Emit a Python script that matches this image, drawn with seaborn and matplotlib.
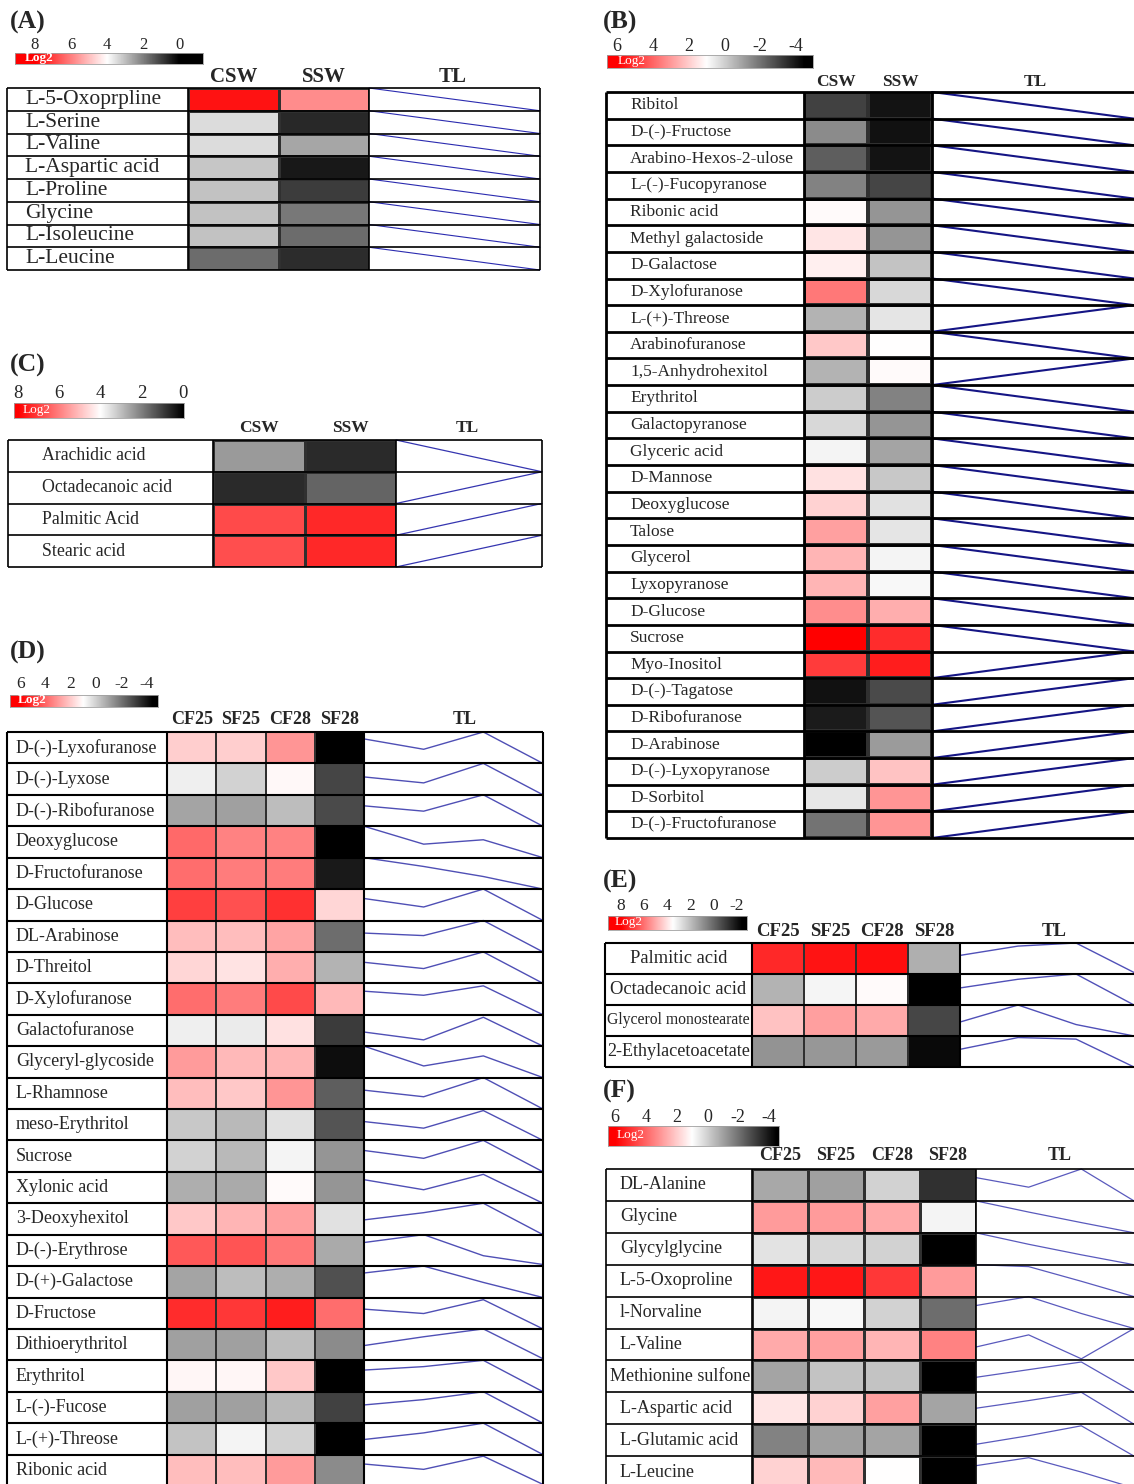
import numpy as np
import pandas as pd
import matplotlib
matplotlib.use("Agg")
import matplotlib.pyplot as plt
import seaborn as sns
from matplotlib.colors import LinearSegmentedColormap, Normalize

# ---------------------------------------------------------------- data
# (A) amino acids, seed water extracts (log2 fold change)
a_rows = ["L-5-Oxoprpline", "L-Serine", "L-Valine", "L-Aspartic acid",
          "L-Proline", "Glycine", "L-Isoleucine", "L-Leucine"]
a_groups = ["CSW", "SSW"]
a_csw = [7.7, 3.45, 3.45, 3.1, 3.05, 3.05, 3.05, 1.7]
a_ssw = [5.8, 0.63, 2.6, 0.4, 0.95, 1.9, 1.7, 0.7]

# (B) sugars and polyols, seed water extracts
b_rows = ["Ribitol", "D-(-)-Fructose", "Arabino-Hexos-2-ulose", "L-(-)-Fucopyranose",
          "Ribonic acid", "Methyl galactoside", "D-Galactose", "D-Xylofuranose",
          "L-(+)-Threose", "Arabinofuranose", "1,5-Anhydrohexitol", "Erythritol",
          "Galactopyranose", "Glyceric acid", "D-Mannose", "Deoxyglucose", "Talose",
          "Glycerol", "Lyxopyranose", "D-Glucose", "Sucrose", "Myo-Inositol",
          "D-(-)-Tagatose", "D-Ribofuranose", "D-Arabinose", "D-(-)-Lyxopyranose",
          "D-Sorbitol", "D-(-)-Fructofuranose"]
b_groups = ["CSW", "SSW"]
b_csw = [-3.1, -1.48, -2.45, -1.7, 1.1, 1.49, 1.29, 3.65, -0.62, 2.08, -0.62, -0.08,
         0.14, 0.78, 1.59, 1.88, 2.86, 2.47, 2.47, 3.25, 6.0, 4.82, -4.11, -3.9,
         -4.5, -0.08, 0.5, -2.02]
b_ssw = [-4.07, -4.11, -4.07, -2.99, -1.26, -1.26, -0.29, 0.14, 0.46, 1.0, 1.1, -1.7,
         -1.26, -0.94, -0.19, 0.35, 0.46, 0.78, 0.85, 2.57, 5.12, 5.41, -2.88, -2.67,
         -1.16, 2.18, 3.06, 3.06]

# (C) fatty acids, seed water extracts
c_rows = ["Arachidic acid", "Octadecanoic acid", "Palmitic Acid", "Stearic acid"]
c_groups = ["CSW", "SSW"]
c_csw = [2.43, 0.66, 6.82, 6.75]
c_ssw = [0.66, 1.57, 7.37, 7.37]

# (D) sugars and polyols, fruits
d_rows = ["D-(-)-Lyxofuranose", "D-(-)-Lyxose", "D-(-)-Ribofuranose", "Deoxyglucose",
          "D-Fructofuranose", "D-Glucose", "DL-Arabinose", "D-Threitol", "D-Xylofuranose",
          "Galactofuranose", "Glyceryl-glycoside", "L-Rhamnose", "meso-Erythritol",
          "Sucrose", "Xylonic acid", "3-Deoxyhexitol", "D-(-)-Erythrose",
          "D-(+)-Galactose", "D-Fructose", "Dithioerythritol", "Erythritol",
          "L-(-)-Fucose", "L-(+)-Threose", "Ribonic acid"]
d_groups = ["CF25", "SF25", "CF28", "SF28"]
d_cf25 = [1.98, 0.63, -0.94, 3.94, 3.84, 4.73, 2.27, 1.78, 3.84, 0.63, 2.96, 2.27,
          -0.19, 0.03, -0.73, 2.08, 4.24, -0.94, 5.12, -1.05, 1.2, -1.05, -0.29, 2.27]
d_sf25 = [1.98, 0.03, -1.05, 3.45, 3.55, 4.43, 2.27, 1.53, 3.55, 0.57, 2.37, 2.08,
          -0.51, -0.51, -0.83, 2.47, 4.33, -0.4, 4.92, -1.05, 1.2, -1.05, 0.78, 2.27]
d_cf28 = [3.06, 1.14, -0.4, 3.45, 3.55, 5.02, 2.76, 2.57, 4.53, 1.59, 2.47, 3.06,
          0.35, 0.78, 1.1, 2.86, 3.65, -0.73, 5.41, -0.4, 2.08, -0.51, 0.03, 2.96]
d_sf28 = [-4.5, -2.99, -2.88, -4.5, -3.96, 1.78, -2.13, -0.62, 2.37, -3.21, -4.18,
          -2.45, -2.67, -1.26, -1.26, 0.35, -0.83, -2.77, 3.84, -1.48, -4.5, -3.1,
          -4.5, -1.48]
# relative trend across CF25, SF25, CF28, SF28 (0 = lowest, 1 = highest)
d_tl_cf25 = [0.78, 0.57, 0.65, 1.0, 1.0, 0.7, 0.6, 0.67, 0.75, 0.45, 1.0, 0.6,
             0.6, 0.68, 0.75, 0.47, 0.75, 0.78, 0.63, 0.47, 0.69, 0.58, 0.48, 0.7]
d_tl_sf25 = [0.45, 0.38, 0.48, 0.43, 0.72, 0.43, 0.52, 0.47, 0.62, 0.2, 0.37, 0.39,
             0.39, 0.43, 0.43, 0.7, 1.0, 1.0, 0.49, 0.75, 0.8, 0.75, 0.69, 0.53]
d_tl_cf28 = [1.0, 1.0, 1.0, 0.57, 0.4, 1.0, 1.0, 1.0, 0.92, 0.92, 0.69, 1.0,
             0.95, 1.0, 0.92, 1.0, 0.33, 0.48, 0.93, 1.0, 1.0, 1.0, 1.0, 0.95]
d_tl_sf28 = [0.0, 0.0, 0.0, 0.0, 0.0, 0.0, 0.0, 0.0, 0.0, 0.0, 0.0, 0.0,
             0.0, 0.0, 0.0, 0.0, 0.05, 0.0, 0.0, 0.05, 0.0, 0.0, 0.0, 0.05]

# (E) fatty acids, fruits
e_rows = ["Palmitic acid", "Octadecanoic acid", "Glycerol monostearate",
          "2-Ethylacetoacetate"]
e_groups = ["CF25", "SF25", "CF28", "SF28"]
e_cf25 = [7.29, 1.69, 4.56, 0.98]
e_sf25 = [7.65, 3.26, 5.18, 1.03]
e_cf28 = [7.74, 3.59, 5.0, 1.15]
e_sf28 = [1.62, -2.5, -0.85, -2.26]
e_tl_cf25 = [0.6, 0.55, 0.45, 0.57]
e_tl_sf25 = [0.9, 0.83, 1.0, 0.95]
e_tl_cf28 = [1.0, 1.0, 0.37, 0.9]
e_tl_sf28 = [0.05, 0.0, 0.0, 0.0]

# (F) amino acids, fruits
f_rows = ["DL-Alanine", "Glycine", "Glycylglycine", "L-5-Oxoproline", "l-Norvaline",
          "L-Valine", "Methionine sulfone", "L-Aspartic acid", "L-Glutamic acid",
          "L-Leucine"]
f_groups = ["CF25", "SF25", "CF28", "SF28"]
f_cf25 = [-0.88, 2.96, 0.42, 5.51, 0.78, 2.67, -0.94, 1.49, -1.7, 1.88]
f_sf25 = [-1.05, 2.96, 0.14, 5.51, 0.85, 2.86, -0.29, 1.88, -1.05, 2.37]
f_cf28 = [0.03, 2.67, 0.03, 4.92, 0.03, 2.47, -0.29, 2.86, -0.94, 1.0]
f_sf28 = [-3.46, 0.78, -4.5, 2.96, -2.13, 3.45, -4.5, -0.94, -4.5, -4.5]
f_tl_cf25 = [0.73, 1.0, 1.0, 1.0, 0.72, 0.42, 0.47, 0.5, 0.37, 0.7]
f_tl_sf25 = [0.43, 0.65, 0.64, 0.94, 1.0, 0.8, 0.71, 0.74, 0.64, 0.95]
f_tl_cf28 = [1.0, 0.32, 0.31, 0.48, 0.47, 0.05, 0.95, 1.0, 0.95, 0.5]
f_tl_sf28 = [0.0, 0.0, 0.0, 0.0, 0.0, 1.0, 0.0, 0.0, 0.0, 0.0]

# ---------------------------------------------------------------- style
sns.set_theme(style="white")
plt.rcParams["font.family"] = ["Liberation Serif", "DejaVu Serif"]
plt.rcParams["axes.unicode_minus"] = False

FIG_W, FIG_H = 1134, 1484
fig = plt.figure(figsize=(FIG_W / 100, FIG_H / 100), dpi=100)
fig.patch.set_facecolor("white")


def px_axes(x0, y0, x1, y1):
    """Axes placed by pixel box (left, top, right, bottom)."""
    return fig.add_axes([x0 / FIG_W, 1 - y1 / FIG_H, (x1 - x0) / FIG_W, (y1 - y0) / FIG_H])


def px_text(x, y, s, **kw):
    return fig.text(x / FIG_W, 1 - y / FIG_H, s, **kw)


def log2_cmap(vmin, vmid, vmax):
    f = (vmid - vmin) / (vmax - vmin)
    return LinearSegmentedColormap.from_list(
        "log2", [(0.0, "#000000"), (f, "#ffffff"), (1.0, "#ff0000")])


fit_labels = []


def minmax(row):
    row = np.asarray(row, float)
    span = row.max() - row.min()
    return (row - row.min()) / span if span > 0 else np.full_like(row, 0.5)


def draw_panel(p, rows, groups, values, trend=None):
    n, k = len(rows), len(groups)
    vmin, vmid, vmax = p["scale"]
    cmap = log2_cmap(vmin, vmid, vmax)

    px_text(*p["letter_xy"], p["letter"], fontsize=18.5, fontweight="bold",
            ha="left", va="center")

    # colour key
    bx0, by0, bx1, by1 = p["bar"]
    hi, lo = p["bar_range"]
    cax = px_axes(bx0, by0, bx1, by1)
    grad = np.linspace(hi, lo, 400)[None, :]
    cax.imshow(grad, cmap=cmap, norm=Normalize(vmin, vmax), aspect="auto",
               extent=[hi, lo, 0, 1], interpolation="bilinear")
    cax.set_xlim(hi, lo)
    cax.set_ylim(0, 1)
    cax.set_xticks(p["ticks"])
    cax.set_xticklabels([f"{t:g}" for t in p["ticks"]])
    cax.set_yticks([])
    cax.xaxis.tick_top()
    cax.tick_params(axis="x", length=0, pad=p["tick_pad"], labelsize=p["tick_fs"])
    for s in cax.spines.values():
        s.set_color("#a0a0a0")
        s.set_linewidth(0.6)
    cax.text(0.05, 0.55, "Log2", transform=cax.transAxes, color="white",
             fontsize=9.5, fontweight=p.get("log2_weight", "normal"),
             ha="left", va="center")

    tx0, ty0, tx1, ty1 = p["table"]
    hx0, hx1 = p["cells"]

    # row labels
    lax = px_axes(tx0, ty0, hx0, ty1)
    lax.set_xlim(tx0, hx0)
    lax.set_ylim(n, 0)
    lax.axis("off")
    for i, name in enumerate(rows):
        if p["label_mode"] == "center":
            t = lax.text((tx0 + hx0) / 2, i + 0.5, name, fontsize=p["label_fs"],
                         ha="center", va="center")
        else:
            t = lax.text(tx0 + p["label_pad"], i + 0.5, name, fontsize=p["label_fs"],
                         ha="left", va="center")
        fit_labels.append((t, tx0, hx0, p["label_mode"]))

    # heat map
    df = pd.DataFrame(np.column_stack(values), index=rows, columns=groups)
    hax = px_axes(hx0, ty0, hx1, ty1)
    sns.heatmap(df, ax=hax, cmap=cmap, vmin=vmin, vmax=vmax, cbar=False,
                linewidths=p["cell_lw"], linecolor="#303030",
                xticklabels=False, yticklabels=False)
    hax.set_xlabel("")
    hax.set_ylabel("")

    # column headers
    cw = (hx1 - hx0) / k
    for j, g in enumerate(groups):
        px_text(hx0 + cw * (j + 0.5), p["header_y"], g, fontsize=p["header_fs"],
                fontweight="bold", ha="center", va="center")
    px_text(p["tl_x"], p["header_y"], "TL", fontsize=p["header_fs"],
            fontweight="bold", ha="center", va="center")

    # trend lines
    if trend is None:
        trend = [minmax(r) for r in df.to_numpy()]
    else:
        trend = np.column_stack(trend)
    recs = []
    for i, tr in enumerate(trend):
        for j in range(k):
            recs.append({"row": i, "x": j, "y": i + 1 - tr[j]})
    tl_df = pd.DataFrame(recs)
    tax = px_axes(hx1, ty0, tx1, ty1)
    sns.lineplot(data=tl_df, x="x", y="y", units="row", estimator=None, ax=tax,
                 color=p["tl_color"], linewidth=p["tl_lw"], legend=False)
    for ln in tax.lines:
        ln.set_clip_on(False)
    tax.set_xlim(0, k - 1)
    tax.set_ylim(n, 0)
    tax.axis("off")

    # table rules
    fax = px_axes(tx0, ty0, tx1, ty1)
    fax.set_xlim(tx0, tx1)
    fax.set_ylim(n, 0)
    fax.patch.set_visible(False)
    fax.axis("off")
    fax.hlines(np.arange(n + 1), tx0, tx1, color="black", lw=p["frame_lw"], clip_on=False)
    vx = [tx0, hx0, hx1] + ([tx1] if p["right_border"] else [])
    fax.vlines(vx, 0, n, color="black", lw=p["frame_lw"], clip_on=False)


panel_a = dict(letter="(A)", letter_xy=(10, 22), bar=(15, 53, 203, 64),
               bar_range=(9.1, -1.3), ticks=[8, 6, 4, 2, 0], tick_fs=12, tick_pad=0.1,
               scale=(0, 4, 8), table=(7, 88, 540, 270), cells=(188, 369),
               header_y=77, header_fs=15, tl_x=453, label_fs=15.5, label_pad=18,
               label_mode="left", cell_lw=0.8, frame_lw=1.2, right_border=True,
               tl_color="#2b2bb0", tl_lw=0.8, log2_weight="bold")
panel_b = dict(letter="(B)", letter_xy=(603, 22), bar=(607, 55, 813, 68),
               bar_range=(6.56, -4.95), ticks=[6, 4, 2, 0, -2, -4], tick_fs=13,
               tick_pad=0.2, scale=(-4.5, 1, 6), table=(606, 92, 1134, 838),
               cells=(804, 932), header_y=82, header_fs=12.5, tl_x=1035, label_fs=12.5,
               label_pad=24, label_mode="left", cell_lw=1.5, frame_lw=2.0,
               right_border=False, tl_color="#151585", tl_lw=1.5)
panel_c = dict(letter="(C)", letter_xy=(10, 365), bar=(14, 403, 184, 418),
               bar_range=(8.19, -0.05), ticks=[8, 6, 4, 2, 0], tick_fs=13.5, tick_pad=0.8,
               scale=(0, 4, 8), table=(8, 440, 542, 567), cells=(213, 396),
               header_y=428, header_fs=12.5, tl_x=467, label_fs=12.8, label_pad=34,
               label_mode="left", cell_lw=0.8, frame_lw=1.2, right_border=True,
               tl_color="#3535b0", tl_lw=0.9)
panel_d = dict(letter="(D)", letter_xy=(10, 652), bar=(10, 695, 158, 707),
               bar_range=(6.8, -4.9), ticks=[6, 4, 2, 0, -2, -4], tick_fs=12.5,
               tick_pad=2.0, scale=(-4.5, 1, 6), table=(7, 732, 543, 1486),
               cells=(167, 364), header_y=720, header_fs=13, tl_x=465, label_fs=13,
               label_pad=9, label_mode="left", cell_lw=1.2, frame_lw=1.5,
               right_border=True, tl_color="#4f4fb5", tl_lw=1.0, log2_weight="bold")
panel_e = dict(letter="(E)", letter_xy=(603, 881), bar=(608, 916, 747, 930),
               bar_range=(9.1, -2.9), ticks=[8, 6, 4, 2, 0, -2], tick_fs=12.5,
               tick_pad=1.7, scale=(-2.5, 3.5, 8), table=(605, 943, 1134, 1067),
               cells=(752, 960), header_y=932, header_fs=13.5, tl_x=1054, label_fs=13.3,
               label_pad=0, label_mode="center", cell_lw=1.2, frame_lw=1.5,
               right_border=False, tl_color="#5050b8", tl_lw=1.0)
panel_f = dict(letter="(F)", letter_xy=(603, 1091), bar=(608, 1126, 779, 1146),
               bar_range=(6.46, -4.65), ticks=[6, 4, 2, 0, -2, -4], tick_fs=13,
               tick_pad=0.3, scale=(-4.5, 1, 6), table=(606, 1169, 1134, 1488),
               cells=(752, 976), header_y=1156, header_fs=13, tl_x=1060, label_fs=13,
               label_pad=14, label_mode="left", cell_lw=1.0, frame_lw=1.2,
               right_border=False, tl_color="#5a5abd", tl_lw=0.9)

draw_panel(panel_a, a_rows, a_groups, [a_csw, a_ssw])
draw_panel(panel_b, b_rows, b_groups, [b_csw, b_ssw])
draw_panel(panel_c, c_rows, c_groups, [c_csw, c_ssw])
draw_panel(panel_d, d_rows, d_groups, [d_cf25, d_sf25, d_cf28, d_sf28],
           [d_tl_cf25, d_tl_sf25, d_tl_cf28, d_tl_sf28])
draw_panel(panel_e, e_rows, e_groups, [e_cf25, e_sf25, e_cf28, e_sf28],
           [e_tl_cf25, e_tl_sf25, e_tl_cf28, e_tl_sf28])
draw_panel(panel_f, f_rows, f_groups, [f_cf25, f_sf25, f_cf28, f_sf28],
           [f_tl_cf25, f_tl_sf25, f_tl_cf28, f_tl_sf28])

# keep every row label inside its cell
fig.canvas.draw()
renderer = fig.canvas.get_renderer()
for t, lo_px, hi_px, mode in fit_labels:
    bb = t.get_window_extent(renderer)
    if mode == "center":
        while bb.width > hi_px - lo_px - 4 and t.get_fontsize() > 6:
            t.set_fontsize(t.get_fontsize() - 0.25)
            bb = t.get_window_extent(renderer)
    elif bb.x1 > hi_px - 2:
        t.set_x(max(lo_px + 1, hi_px - 2 - bb.width))

fig.savefig("out.png", dpi=100, facecolor="white")
